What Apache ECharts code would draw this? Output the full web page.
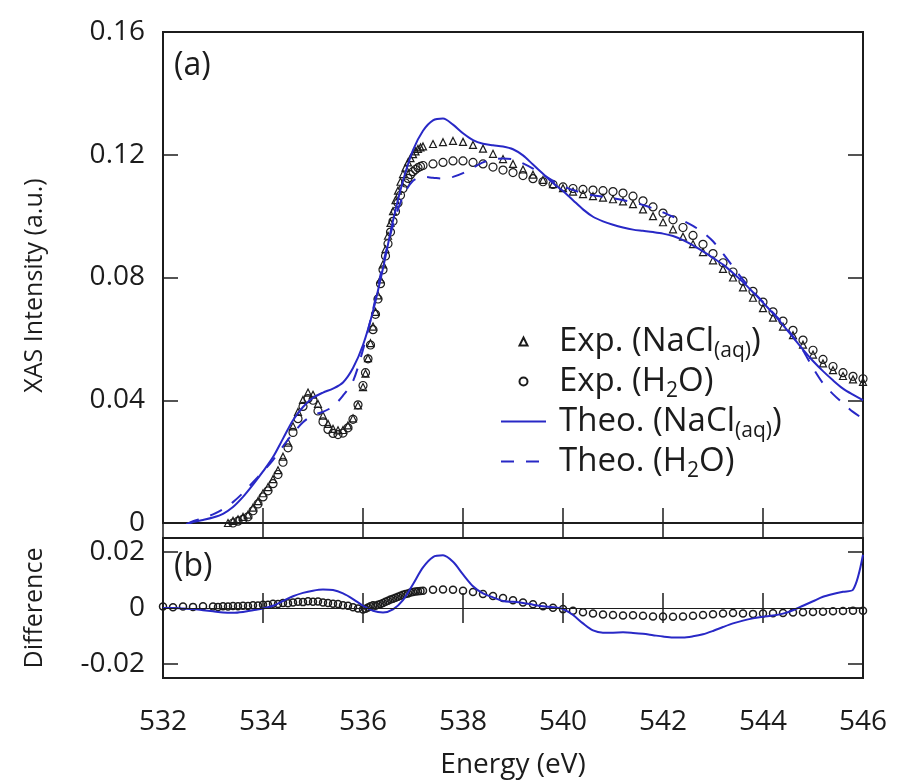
<!DOCTYPE html>
<html>
<head>
<meta charset="utf-8">
<script src="https://cdn.jsdelivr.net/npm/echarts@6/dist/echarts.min.js"></script>
<style>
  html, body { margin: 0; padding: 0; background: #fff; }
  #main { width: 904px; height: 782px; }
</style>
</head>
<body>
<div id="main"></div>
<script>
// ---- data ----
// experimental energies (finer steps on the steep edge)
const expEnergy = [
  532.0, 532.2, 532.4, 532.6, 532.8, 533.0,
  533.1, 533.2, 533.3, 533.4, 533.5, 533.6, 533.7, 533.8, 533.9, 534.0,
  534.1, 534.2, 534.3, 534.4, 534.5, 534.6, 534.7, 534.8, 534.9, 535.0,
  535.1, 535.2, 535.3, 535.4, 535.5, 535.6, 535.7, 535.8, 535.9, 536.0,
  536.05, 536.1, 536.15, 536.2, 536.25, 536.3, 536.35, 536.4, 536.45, 536.5, 536.55, 536.6,
  536.65, 536.7, 536.75, 536.8, 536.85, 536.9, 536.95, 537.0, 537.05, 537.1, 537.15, 537.2,
  537.4, 537.6, 537.8, 538.0, 538.2, 538.4, 538.6, 538.8, 539.0, 539.2, 539.4,
  539.6, 539.8, 540.0, 540.2, 540.4, 540.6, 540.8, 541.0, 541.2, 541.4, 541.6,
  541.8, 542.0, 542.2, 542.4, 542.6, 542.8, 543.0, 543.2, 543.4, 543.6, 543.8,
  544.0, 544.2, 544.4, 544.6, 544.8, 545.0, 545.2, 545.4, 545.6, 545.8, 546.0
];
const expNaCl = [
  -0.0025, -0.0027, -0.0023, -0.0021, -0.0016, -0.0015,
  -0.0014, -0.0006, 0.0, 0.0007, 0.0012, 0.002, 0.0027, 0.005, 0.0071, 0.0097,
  0.0117, 0.0143, 0.0172, 0.0216, 0.0262, 0.0315, 0.0362, 0.0401, 0.0425, 0.0418,
  0.0388, 0.035, 0.0323, 0.0307, 0.0302, 0.0303, 0.0318, 0.0341, 0.0383, 0.0443,
  0.0487, 0.0537, 0.0586, 0.064, 0.0688, 0.0742, 0.0794, 0.0843, 0.0892, 0.0936, 0.0978, 0.1016,
  0.1052, 0.1083, 0.1112, 0.1137, 0.1158, 0.1175, 0.1189, 0.1202, 0.1211, 0.1219, 0.1224, 0.1227,
  0.1235, 0.1241, 0.1245, 0.1242, 0.1232, 0.122, 0.1203, 0.1186, 0.117, 0.1152, 0.1135,
  0.1118, 0.1104, 0.1091, 0.108, 0.1072, 0.1065, 0.106, 0.1055, 0.1048, 0.1039, 0.1022,
  0.1, 0.098, 0.0957, 0.0933, 0.0909, 0.0883, 0.0856, 0.0828, 0.08, 0.0768, 0.0734,
  0.07, 0.0669, 0.064, 0.0612, 0.0581, 0.0549, 0.052, 0.0498, 0.0479, 0.0468, 0.046
];
const expH2O = [
  -0.003, -0.003, -0.0028, -0.0025, -0.0022, -0.002,
  -0.0018, -0.0012, -0.0005, 0.0, 0.0006, 0.0012, 0.002, 0.004, 0.0062, 0.0085,
  0.0105, 0.0128, 0.0158, 0.0198, 0.0245, 0.0295, 0.034, 0.038, 0.0405, 0.040,
  0.0365, 0.033, 0.0305, 0.0292, 0.0288, 0.0293, 0.031, 0.0338, 0.0385, 0.0448,
  0.049, 0.0535, 0.058, 0.063, 0.068, 0.073, 0.078, 0.0825, 0.087, 0.091, 0.0948, 0.0983,
  0.1015, 0.1043, 0.1068, 0.109, 0.1108, 0.1123, 0.1135, 0.1145, 0.1152, 0.1158, 0.1162, 0.1165,
  0.117, 0.1175, 0.118, 0.118, 0.1175, 0.117, 0.116, 0.115, 0.1142, 0.1132, 0.1122,
  0.1112, 0.1103, 0.1095, 0.109, 0.1087, 0.1085, 0.1083, 0.108, 0.1075, 0.1065, 0.105,
  0.103, 0.101, 0.0988, 0.0963, 0.0937, 0.0908, 0.0878, 0.0848, 0.0818, 0.0788, 0.0755,
  0.072, 0.0688, 0.0658, 0.0628, 0.0596, 0.0563, 0.0533, 0.051, 0.049, 0.0478, 0.047
];
// exp. difference NaCl(aq) - H2O, panel (b)
const expDiff = [
  0.0005, 0.0003, 0.0005, 0.0004, 0.0006, 0.0005,
  0.0004, 0.0006, 0.0005, 0.0007, 0.0006, 0.0008, 0.0007, 0.001, 0.0009, 0.0012,
  0.0012, 0.0015, 0.0014, 0.0018, 0.0017, 0.002, 0.0022, 0.0021, 0.0024, 0.0022,
  0.0023, 0.002, 0.0018, 0.0015, 0.0014, 0.001, 0.0008, 0.0003, -0.0002, -0.0005,
  -0.0003, 0.0002, 0.0006, 0.001, 0.0008, 0.0012, 0.0014, 0.0018, 0.0022, 0.0026, 0.003, 0.0033,
  0.0037, 0.004, 0.0044, 0.0047, 0.005, 0.0052, 0.0055, 0.0057, 0.0059, 0.006, 0.0061, 0.0062,
  0.0065, 0.0066, 0.0065, 0.0062, 0.0057, 0.005, 0.0043, 0.0036, 0.0028, 0.002, 0.0013,
  0.0006, 0.0001, -0.0004, -0.001, -0.0015, -0.002, -0.0023, -0.0025, -0.0027, -0.0026, -0.0028,
  -0.003, -0.003, -0.0031, -0.003, -0.0028, -0.0025, -0.0022, -0.002, -0.0018, -0.002, -0.0021,
  -0.002, -0.0019, -0.0018, -0.0016, -0.0015, -0.0014, -0.0013, -0.0012, -0.0011, -0.001, -0.001
];

// theory, 0.2 eV grid
const theoEnergy = [
  532.0, 532.2, 532.4, 532.6, 532.8, 533.0, 533.2, 533.4, 533.6, 533.8,
  534.0, 534.2, 534.4, 534.6, 534.8, 535.0, 535.2, 535.4, 535.6, 535.8,
  536.0, 536.2, 536.4, 536.6, 536.8, 537.0, 537.2, 537.4, 537.6, 537.8,
  538.0, 538.2, 538.4, 538.6, 538.8, 539.0, 539.2, 539.4, 539.6, 539.8,
  540.0, 540.2, 540.4, 540.6, 540.8, 541.0, 541.2, 541.4, 541.6, 541.8,
  542.0, 542.2, 542.4, 542.6, 542.8, 543.0, 543.2, 543.4, 543.6, 543.8,
  544.0, 544.2, 544.4, 544.6, 544.8, 545.0, 545.2, 545.4, 545.6, 545.8, 546.0
];
const theoNaCl = [
  -0.003, -0.002, -0.001, 0.0003, 0.001, 0.0018, 0.003, 0.0052, 0.0085, 0.0125,
  0.0168, 0.0215, 0.0275, 0.0335, 0.0378, 0.0408, 0.0425, 0.0438, 0.0458, 0.0505,
  0.058, 0.069, 0.083, 0.0985, 0.1115, 0.1215, 0.1278, 0.1312, 0.1318, 0.1298,
  0.127, 0.1248, 0.1236, 0.1231, 0.1227, 0.1218, 0.1198, 0.1168, 0.1138, 0.1108,
  0.1082, 0.1052, 0.1022, 0.0998, 0.0983, 0.0972, 0.0963, 0.0956, 0.0952, 0.0948,
  0.0943, 0.0935, 0.0922, 0.0905, 0.0885, 0.0864, 0.0842, 0.0815, 0.0785, 0.0752,
  0.0718, 0.0683, 0.0645, 0.0605, 0.0565, 0.0528, 0.0495, 0.0465, 0.0438, 0.0418, 0.040
];
const theoH2O = [
  -0.003, -0.002, -0.0008, 0.0006, 0.0016, 0.0028, 0.0045, 0.0068, 0.0098, 0.0133,
  0.0168, 0.0205, 0.025, 0.0292, 0.0328, 0.0352, 0.0362, 0.038, 0.0415, 0.0462,
  0.0565, 0.0695, 0.0845, 0.097, 0.1065, 0.1115, 0.1128, 0.1125, 0.1122, 0.1128,
  0.114, 0.1158, 0.1175, 0.1185, 0.1188, 0.1185, 0.1172, 0.1155, 0.1135, 0.1115,
  0.1098, 0.1085, 0.1075, 0.1068, 0.1063, 0.1058, 0.1052, 0.1045, 0.1036, 0.1025,
  0.1012, 0.0998, 0.0985, 0.0968, 0.0947, 0.0918, 0.0878, 0.0835, 0.0793, 0.0755,
  0.072, 0.0685, 0.065, 0.0608, 0.0562, 0.0505, 0.0455, 0.042, 0.039, 0.0362, 0.034
];
const theoDiff = [
  0.0, 0.0, -0.0002, -0.0004, -0.0008, -0.0012, -0.0016, -0.0017, -0.0014, -0.0008,
  -0.0002, 0.0008, 0.0025, 0.0042, 0.0054, 0.0062, 0.0066, 0.0064, 0.0052, 0.0032,
  0.0008, -0.001, -0.0016, -0.0005, 0.0028, 0.0085, 0.0145, 0.0182, 0.0188, 0.0165,
  0.012, 0.0078, 0.0052, 0.0038, 0.0025, 0.0022, 0.0018, 0.0012, 0.0006, 0.0003,
  -0.0004, -0.0025, -0.0055, -0.008, -0.0088, -0.0088, -0.0087, -0.0089, -0.0092, -0.0097,
  -0.0102, -0.0105, -0.0105, -0.0101, -0.0094, -0.0082, -0.0068, -0.0055, -0.0045, -0.0037,
  -0.0031, -0.0027, -0.002, -0.0008, 0.0008, 0.0024, 0.004, 0.005, 0.0058, 0.0065, 0.019
];

const energyTicks = [532, 546, 2];        // min, max, step
const intensityTicks = [0, 0.16, 0.04];
const diffTicks = [-0.02, 0, 0.02];

const legendNames = ['Exp. (NaCl(aq))', 'Exp. (H2O)', 'Theo. (NaCl(aq))', 'Theo. (H2O)'];
const legendRich = {
  'Exp. (NaCl(aq))': '{n|Exp. (NaCl}{s|(aq)}{n|)}',
  'Exp. (H2O)': '{n|Exp. (H}{s|2}{n|O)}',
  'Theo. (NaCl(aq))': '{n|Theo. (NaCl}{s|(aq)}{n|)}',
  'Theo. (H2O)': '{n|Theo. (H}{s|2}{n|O)}'
};

// ---- chart ----
const FONT = '"Open Sans", "DejaVu Sans", sans-serif';
const INK = '#1c1c1c';
const BLUE = '#2828c6';

const pair = (xs, ys) => xs.map((x, i) => [x, ys[i]]);
const fmt = v => (v === 0 ? '0' : v.toFixed(2));

const tick = {
  show: true, inside: true, length: 15,
  lineStyle: { color: INK, width: 1.5 }
};
const labelStyle = { color: INK, fontFamily: FONT, fontSize: 28 };

function energyAxis(gridIndex, position, withLabels) {
  const ax = {
    type: 'value', gridIndex, position,
    min: energyTicks[0], max: energyTicks[1], interval: energyTicks[2],
    axisLine: { show: false },
    axisTick: tick,
    splitLine: { show: false },
    axisLabel: { show: false }
  };
  if (withLabels) {
    ax.axisLabel = Object.assign({ show: true, margin: 30 }, labelStyle);
    ax.name = 'Energy (eV)';
    ax.nameLocation = 'middle';
    ax.nameGap = 73;
    ax.nameTextStyle = Object.assign({}, labelStyle);
  }
  return ax;
}

const myChart = echarts.init(document.getElementById('main'), null, { renderer: 'canvas' });

const option = {
  animation: false,
  backgroundColor: '#fff',
  grid: [
    { left: 163, top: 32, width: 700, height: 491, show: true, borderColor: INK, borderWidth: 2 },
    { left: 163, top: 538, width: 700, height: 140, show: true, borderColor: INK, borderWidth: 2 }
  ],
  xAxis: [
    energyAxis(0, 'bottom', false),
    energyAxis(0, 'top', false),
    energyAxis(1, 'bottom', true),
    energyAxis(1, 'top', false)
  ],
  yAxis: [
    {
      type: 'value', gridIndex: 0, position: 'left',
      min: intensityTicks[0], max: intensityTicks[1], interval: intensityTicks[2],
      axisLine: { show: false }, axisTick: tick, splitLine: { show: false },
      axisLabel: Object.assign({ margin: 18, formatter: fmt }, labelStyle),
      name: 'XAS Intensity (a.u.)', nameLocation: 'middle', nameGap: 116, nameRotate: 90,
      nameTextStyle: { color: INK, fontFamily: FONT, fontSize: 25, padding: [0, 16, 0, 0] }
    },
    {
      type: 'value', gridIndex: 0, position: 'right',
      min: intensityTicks[0], max: intensityTicks[1], interval: intensityTicks[2],
      axisLine: { show: false }, axisTick: tick, splitLine: { show: false },
      axisLabel: { show: false }
    },
    {
      type: 'value', gridIndex: 1, position: 'left',
      min: -0.025, max: 0.025,
      axisLine: { show: false },
      axisTick: Object.assign({ customValues: diffTicks }, tick),
      splitLine: { show: false },
      axisLabel: Object.assign({ margin: 18, formatter: fmt, customValues: diffTicks }, labelStyle),
      name: 'Difference', nameLocation: 'middle', nameGap: 116, nameRotate: 90,
      nameTextStyle: { color: INK, fontFamily: FONT, fontSize: 25 }
    },
    {
      type: 'value', gridIndex: 1, position: 'right',
      min: -0.025, max: 0.025,
      axisLine: { show: false },
      axisTick: Object.assign({ customValues: diffTicks }, tick),
      splitLine: { show: false },
      axisLabel: { show: false, customValues: diffTicks }
    }
  ],
  legend: {
    orient: 'vertical', left: 495, top: 320,
    itemWidth: 45, itemHeight: 10, itemGap: 3.5,
    data: [
      { name: legendNames[0] },
      { name: legendNames[1] },
      { name: legendNames[2], itemStyle: { opacity: 0 } },
      { name: legendNames[3], itemStyle: { opacity: 0 } }
    ],
    selectedMode: false,
    formatter: name => legendRich[name],
    textStyle: {
      padding: [0, 0, 0, 8],
      rich: {
        n: { fontFamily: FONT, fontSize: 33, color: INK, lineHeight: 40 },
        s: { fontFamily: FONT, fontSize: 21, color: INK, lineHeight: 22, verticalAlign: 'bottom' }
      }
    }
  },
  graphic: [
    { type: 'text', left: 174, top: 50, style: { text: '(a)', fontFamily: FONT, fontSize: 32, fill: INK } },
    { type: 'text', left: 174, top: 551, style: { text: '(b)', fontFamily: FONT, fontSize: 32, fill: INK } }
  ],
  series: [
    {
      name: 'Theo. (NaCl(aq))', type: 'line', xAxisIndex: 0, yAxisIndex: 0,
      data: pair(theoEnergy, theoNaCl), smooth: 0.3, symbol: 'none',
      lineStyle: { color: BLUE, width: 2 }, itemStyle: { color: BLUE }, z: 3
    },
    {
      name: 'Theo. (H2O)', type: 'line', xAxisIndex: 0, yAxisIndex: 0,
      data: pair(theoEnergy, theoH2O), smooth: 0.3, symbol: 'none',
      lineStyle: { color: BLUE, width: 2, type: [13, 12] }, itemStyle: { color: BLUE }, z: 3
    },
    {
      name: 'Exp. (NaCl(aq))', type: 'line', xAxisIndex: 0, yAxisIndex: 0,
      data: pair(expEnergy, expNaCl), symbol: 'triangle', symbolSize: 7, showAllSymbol: true,
      lineStyle: { width: 0, color: INK },
      itemStyle: { color: 'rgba(0,0,0,0)', borderColor: INK, borderWidth: 1.2 }, z: 2
    },
    {
      name: 'Exp. (H2O)', type: 'line', xAxisIndex: 0, yAxisIndex: 0,
      data: pair(expEnergy, expH2O), symbol: 'circle', symbolSize: 8, showAllSymbol: true,
      lineStyle: { width: 0, color: INK },
      itemStyle: { color: 'rgba(0,0,0,0)', borderColor: INK, borderWidth: 1.2 }, z: 2
    },
    {
      name: 'Theo. diff', type: 'line', xAxisIndex: 2, yAxisIndex: 2,
      data: pair(theoEnergy, theoDiff), smooth: 0.3, symbol: 'none',
      lineStyle: { color: BLUE, width: 2 }, z: 3,
      markLine: {
        silent: true, symbol: 'none', label: { show: false },
        lineStyle: { color: INK, width: 1.2, type: 'solid' },
        data: [{ yAxis: 0 }]
      }
    },
    {
      name: 'Exp. diff', type: 'line', xAxisIndex: 2, yAxisIndex: 2,
      data: pair(expEnergy, expDiff), symbol: 'circle', symbolSize: 7, showAllSymbol: true,
      lineStyle: { width: 0, color: INK },
      itemStyle: { color: 'rgba(0,0,0,0)', borderColor: INK, borderWidth: 1.5 }, z: 2
    }
  ]
};

myChart.setOption(option);
window.onresize = function () { myChart.resize(); };
</script>
</body>
</html>
